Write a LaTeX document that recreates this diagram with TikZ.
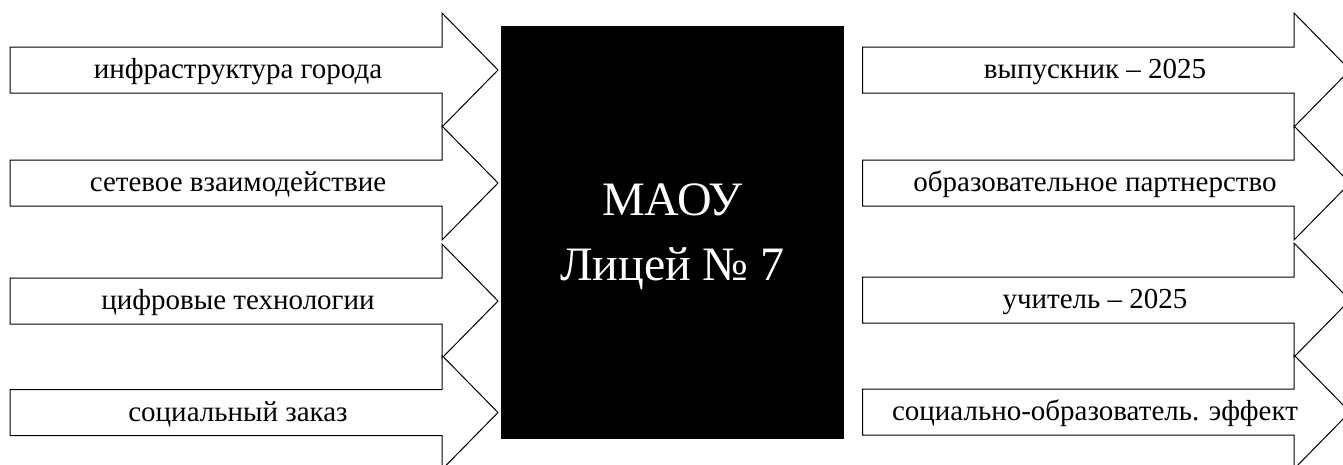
\documentclass[tikz,border=0pt]{standalone}
\usepackage{fontspec}
\setmainfont{Liberation Serif}
\begin{document}
\begin{tikzpicture}[x=1pt,y=-1pt,
  arrowshape/.style={draw=black, fill=white, line width=1pt, line join=miter},
  lbl/.style={font=\fontsize{29}{34}\selectfont, anchor=base, inner sep=0pt},
  centerbox/.style={fill=black, minimum width=343pt, minimum height=413pt, inner sep=0pt},
  centertext/.style={text=white, align=center, inner sep=0pt, font=\fontsize{48}{65}\selectfont}]
\clip (0,0) rectangle (1343,464);
\foreach \yy/\tt/\nn in {70/инфраструктура города/l1, 183/сетевое взаимодействие/l2, 301/цифровые технологии/l3, 412.5/социальный заказ/l4}{
  \draw[arrowshape] (10,\yy-23) -- (442,\yy-23) -- (442,\yy-57) -- (498,\yy) -- (442,\yy+57) -- (442,\yy+23) -- (10,\yy+23) -- cycle;
  \node[lbl] (\nn) at (238,\yy+8.5) {\tt};
}
\foreach \yy/\tt/\nn in {70/выпускник – 2025/r1, 183/образовательное партнерство/r2, 300/учитель – 2025/r3, 412/социально-образователь. эффект/r4}{
  \draw[arrowshape] (862.7,\yy-23) -- (1294,\yy-23) -- (1294,\yy-57) -- (1350,\yy) -- (1294,\yy+57) -- (1294,\yy+23) -- (862.7,\yy+23) -- cycle;
  \node[lbl] (\nn) at (1095,\yy+8.5) {\tt};
}
\node[centerbox] (lyc) at (672.5,232.3) {};
\node[centertext] (lyctext) at (672.5,237) {МАОУ\\Лицей № 7};
\end{tikzpicture}
\end{document}
